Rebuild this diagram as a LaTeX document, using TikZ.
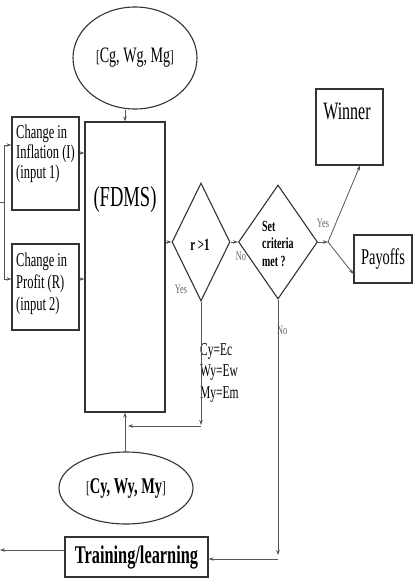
\documentclass[tikz,border=0pt]{standalone}
\usepackage{fontspec}
\setmainfont{Liberation Serif}[FakeStretch=0.64]
\usetikzlibrary{shapes.geometric,arrows.meta}
\definecolor{boxc}{HTML}{333333}
\definecolor{linec}{HTML}{555555}
\definecolor{lblc}{HTML}{666666}
\begin{document}
\begin{tikzpicture}[x=1pt,y=-1pt,
 box/.style={draw=boxc,line width=1.1pt,inner sep=0pt},
 conn/.style={draw=linec,line width=0.8pt},
 arr/.style={conn,-{Stealth[length=5pt,width=3.5pt]}},
 lbl/.style={text=lblc,font=\fontsize{13}{13}\selectfont,inner sep=0pt},
 txt/.style={inner sep=0pt,align=left}
]
\useasboundingbox (0,0) rectangle (415,581);
% nodes
\node[box,ellipse,minimum width=124pt,minimum height=102pt,font=\fontsize{22}{22}\selectfont] (topell) at (135,58) {{\fontsize{17}{17}\selectfont[}Cg, Wg, Mg{\fontsize{17}{17}\selectfont]}};
\node[box,minimum width=80pt,minimum height=290pt] (fdms) at (125,267) {};
\node[txt,font=\fontsize{29}{29}\selectfont] (fdmstxt) at (125,200) {(FDMS)};
\node[box,minimum width=67pt,minimum height=93pt] (inflbox) at (45.5,163.5) {};
\node[txt,anchor=north west,font=\fontsize{19.5}{20}\selectfont] (infltxt) at (16,125) {Change in\\Inflation (I)\\(input 1)};
\node[box,minimum width=67pt,minimum height=86pt] (profbox) at (45.5,287) {};
\node[txt,anchor=north west,font=\fontsize{19.5}{22}\selectfont] (proftxt) at (16,253) {Change in\\Profit (R)\\(input 2)};
\node[box,diamond,minimum width=58pt,minimum height=118pt] (rdia) at (201,242) {};
\node[txt,font=\bfseries\fontsize{17}{17}\selectfont] (rtxt) at (200,245) {r >1};
\node[box,diamond,minimum width=79pt,minimum height=114pt] (scd) at (278,242) {};
\node[txt,anchor=north west,font=\bfseries\fontsize{15.5}{17.5}\selectfont] (scdtxt) at (262,221) {Set\\criteria\\met ?};
\node[box,minimum width=67pt,minimum height=76pt] (winbox) at (349.5,127) {};
\node[txt,font=\fontsize{25}{25}\selectfont] (wintxt) at (347,111) {Winner};
\node[box,minimum width=58pt,minimum height=48pt,font=\fontsize{22.5}{22.5}\selectfont] (paybox) at (383,259) {Payoffs};
\node[txt,anchor=north west,font=\fontsize{18}{21.5}\selectfont] (eqtxt) at (200,343) {Cy=Ec\\Wy=Ew\\My=Em};
\node[box,ellipse,minimum width=134pt,minimum height=72pt,font=\bfseries\fontsize{22.5}{22.5}\selectfont] (botell) at (126,488) {{\mdseries\fontsize{17}{17}\selectfont[}Cy, Wy, My{\mdseries\fontsize{17}{17}\selectfont]}};
\node[box,minimum width=143pt,minimum height=40pt,font=\bfseries\fontsize{25.5}{25.5}\selectfont] (train) at (136.5,557) {Training/learning};
% labels
\node[lbl] (yes1) at (181,289) {Yes};
\node[lbl] (no1) at (241,256) {No};
\node[lbl] (yes2) at (323,223) {Yes};
\node[lbl,anchor=west] (no2) at (277,330) {No};
% coordinates
\coordinate (brtop) at (4,145);
\coordinate (brbot) at (4,279);
\coordinate (brin) at (0,202);
\coordinate (brmid) at (4,202);
\coordinate (jn) at (328,242);
\coordinate (rdown) at (201,425);
\coordinate (rstart) at (201,426);
\coordinate (rleft) at (128,426);
\coordinate (sdown) at (278,555);
\coordinate (sleft) at (278,559);
\coordinate (trout) at (0,550);
% connectors
\draw[arr] (fdms.north |- topell.south) -- (fdms.north);
\draw[conn] (brtop) -- (brbot);
\draw[conn] (brin) -- (brmid);
\draw[arr] (brtop) -- (brtop -| inflbox.west);
\draw[arr] (brbot) -- (brbot -| profbox.west);
\draw[arr] (inflbox.east |- 0,153) -- (fdms.west |- 0,153);
\draw[arr] (profbox.east |- 0,279) -- (fdms.west |- 0,279);
\draw[arr] (fdms.east |- rdia.west) -- (rdia.west);
\draw[arr] (rdia.east) -- (scd.west);
\draw[arr] (scd.east) -- (jn);
\draw[arr] (jn) -- (winbox.south -| 360,0);
\draw[arr] (jn) -- (paybox.west |- 0,274);
\draw[arr] (rdia.south) -- (rdown);
\draw[arr] (rstart) -- (rleft);
\draw[arr] (fdms.south |- botell.north) -- (fdms.south);
\draw[arr] (scd.south) -- (sdown);
\draw[arr] (sleft) -- (train.east |- sleft);
\draw[arr] (train.west |- trout) -- (trout);
\end{tikzpicture}
\end{document}
